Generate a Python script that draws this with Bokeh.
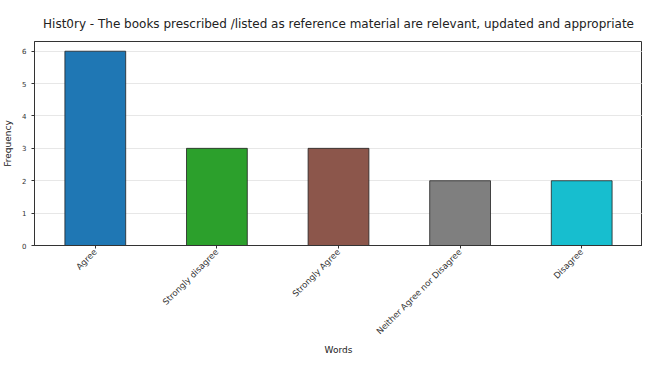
import math
from bokeh.plotting import figure
from bokeh.models import Range1d, FixedTicker, ColumnDataSource, Title
from bokeh.embed import file_html
from bokeh.resources import INLINE

title_text = "Hist0ry - The books prescribed /listed as reference material are relevant, updated and appropriate"
categories = ["Agree", "Strongly disagree", "Strongly Agree", "Neither Agree nor Disagree", "Disagree"]
counts = [6, 3, 3, 2, 2]
colors = ["#1f77b4", "#2ca02c", "#8c564b", "#7f7f7f", "#17becf"]
y_ticks = [0, 1, 2, 3, 4, 5, 6]

positions = list(range(len(categories)))
src = ColumnDataSource(dict(x=positions, top=counts, color=colors))

p = figure(width=642, height=354, output_backend="svg", toolbar_location=None,
           x_range=Range1d(-0.5, len(categories) - 0.5), y_range=Range1d(0, max(counts) * 1.05),
           title=title_text,
           min_border_left=27, min_border_right=0, min_border_top=41, min_border_bottom=0)

p.vbar(x="x", top="top", width=0.5, bottom=0, fill_color="color", line_color="#222222", line_width=0.8, source=src)

p.title.text_font = "DejaVu Sans"
p.title.text_font_size = "12px"
p.title.text_font_style = "normal"
p.title.align = "center"
p.title.text_color = "#222222"
p.title.offset = -4
p.title.standoff = 21

p.xaxis.ticker = FixedTicker(ticks=positions)
p.xaxis.major_label_overrides = {i: c for i, c in enumerate(categories)}
p.xaxis.major_label_orientation = math.pi / 4
p.yaxis.ticker = FixedTicker(ticks=y_ticks)

for ax in (p.xaxis[0], p.yaxis[0]):
    ax.major_label_text_font = "DejaVu Sans"
    ax.major_label_text_color = "#333333"
    ax.axis_label_text_font = "DejaVu Sans"
    ax.axis_label_text_font_size = "9px"
    ax.axis_label_text_font_style = "normal"
    ax.axis_label_text_color = "#222222"
    ax.minor_tick_line_color = None
    ax.major_tick_in = 0
    ax.major_tick_out = 3
    ax.axis_line_color = "#333333"
    ax.major_tick_line_color = "#333333"

p.xaxis.major_label_text_font_size = "8.5px"
p.xaxis.major_label_standoff = 2
p.yaxis.major_label_text_font_size = "7px"
p.yaxis.axis_label_standoff = 6
p.yaxis.axis_label = "Frequency"

words = Title(text="Words", align="center", text_font="DejaVu Sans", text_font_size="9px",
              text_font_style="normal", text_color="#222222", standoff=0, offset=0)
p.add_layout(words, "below")

p.xgrid.grid_line_color = None
p.ygrid.grid_line_color = "#dddddd"
p.ygrid.grid_line_alpha = 0.7
p.outline_line_color = "#333333"
p.outline_line_width = 1

open("out.html", "w").write(file_html(p, INLINE))
